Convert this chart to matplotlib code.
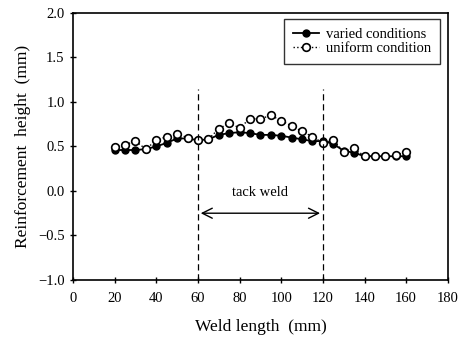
import numpy as np
import matplotlib.pyplot as plt

plt.rcParams["font.family"] = ["Liberation Serif", "DejaVu Serif"]

weld_length = [20, 25, 30, 35, 40, 45, 50, 55, 60, 65, 70, 75, 80, 85, 90,
               95, 100, 105, 110, 115, 120, 125, 130, 135, 140, 145, 150, 155, 160]
varied = [0.46, 0.46, 0.46, 0.47, 0.50, 0.54, 0.59, 0.59, 0.57, 0.58, 0.63, 0.65,
          0.66, 0.65, 0.63, 0.63, 0.62, 0.60, 0.58, 0.56, 0.56, 0.53, 0.45, 0.43,
          0.39, 0.39, 0.39, 0.39, 0.39]
uniform = [0.49, 0.52, 0.56, 0.47, 0.57, 0.61, 0.64, 0.60, 0.57, 0.58, 0.70, 0.76,
           0.71, 0.81, 0.81, 0.85, 0.79, 0.73, 0.67, 0.61, 0.54, 0.57, 0.44, 0.48,
           0.39, 0.39, 0.39, 0.40, 0.44]
tack_start, tack_end = 60, 120

fig = plt.figure(figsize=(4.65, 3.41), dpi=100)
ax = fig.add_axes([0.157, 0.179, 0.806, 0.783])

ax.plot(weld_length, varied, "-o", color="black", lw=1.3, ms=5,
        mfc="black", mec="black", label="varied conditions")
ax.plot(weld_length, uniform, ":o", color="black", lw=1.0, ms=5.5,
        mfc="white", mec="black", mew=1.2, label="uniform condition")

# tack weld markers
for xv in (tack_start, tack_end):
    ax.plot([xv, xv], [-1.0, 1.15], "--", color="black", lw=0.9, dashes=(5, 3))
ax.annotate("", xy=(tack_start, -0.25), xytext=(tack_end, -0.25),
            arrowprops=dict(arrowstyle="<->", color="black", lw=1.0,
                            mutation_scale=18))
ax.text((tack_start + tack_end) / 2, -0.02, "tack weld", ha="center",
        va="center", fontsize=10.5)

ax.set_xlim(0, 180)
ax.set_ylim(-1.0, 2.0)
ax.set_xticks(np.arange(0, 181, 20))
ax.set_yticks(np.arange(-1.0, 2.01, 0.5))
ax.yaxis.set_major_formatter(
    plt.FuncFormatter(lambda v, p: ("%.1f" % v).replace("-", "\u2212")))
ax.tick_params(direction="inout", length=5, width=1, labelsize=10.5)
ax.tick_params(axis="x", pad=6)
for s in ax.spines.values():
    s.set_linewidth(1.2)

ax.set_xlabel("Weld length  (mm)", fontsize=12.5, labelpad=10)
ax.set_ylabel("Reinforcement  height  (mm)", fontsize=12.5, labelpad=5)

leg = ax.legend(loc="upper right", fontsize=10.5, frameon=True, fancybox=False,
                edgecolor="black", handlelength=1.8, handletextpad=0.5,
                borderpad=0.6, labelspacing=0.05, borderaxespad=0,
                bbox_to_anchor=(0.979, 0.9775))
leg.get_frame().set_linewidth(1.0)

fig.savefig("out.png", dpi=100)
